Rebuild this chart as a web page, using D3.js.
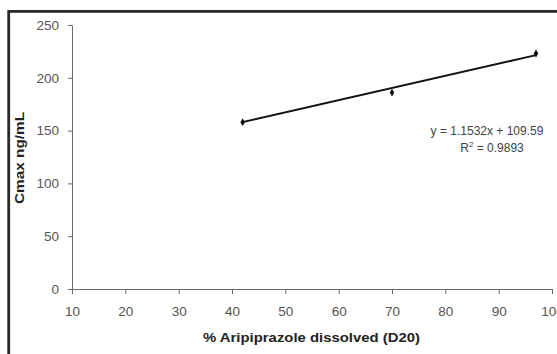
<!DOCTYPE html>
<html><head><meta charset="utf-8">
<script src="https://cdn.jsdelivr.net/npm/d3@7/dist/d3.min.js"></script>
<style>body{margin:0;background:#fff}svg{display:block}text{font-family:"Liberation Sans",Arial,sans-serif}</style>
</head><body>
<script>
const xValues = [42, 70, 97];
const yValues = [158, 186, 223];
const xTicks = [10, 20, 30, 40, 50, 60, 70, 80, 90, 100];
const yTicks = [0, 50, 100, 150, 200, 250];
const slope = 1.1532, intercept = 109.59;
const eqLabel = "y = 1.1532x + 109.59";
const r2Label = "0.9893";
const xTitle = "% Aripiprazole dissolved (D20)";
const yTitle = "Cmax ng/mL";

const W = 557, H = 354;
const svg = d3.select("body").append("svg").attr("width", W).attr("height", H);
svg.append("rect").attr("x", 8.7).attr("y", 11.4).attr("width", 600).attr("height", 400)
  .attr("fill", "none").attr("stroke", "#2a2a2a").attr("stroke-width", 2.8);

const x = d3.scaleLinear().domain([10, 100]).range([72, 552]);
const y = d3.scaleLinear().domain([0, 250]).range([289, 25]);

const xa = svg.append("g").attr("transform", "translate(0,289)")
  .call(d3.axisBottom(x).tickValues(xTicks).tickSize(5).tickSizeOuter(0).tickPadding(12));
const ya = svg.append("g").attr("transform", "translate(72,0)")
  .call(d3.axisLeft(y).tickValues(yTicks).tickSize(4).tickSizeOuter(0).tickPadding(9));
[xa, ya].forEach(a => {
  a.select(".domain").attr("stroke", "#6a6a6a");
  a.selectAll(".tick line").attr("stroke", "#6a6a6a");
  a.selectAll(".tick text").attr("fill", "#555").style("font-size", "13.5px");
});

const xs = d3.extent(xValues);
svg.append("line").attr("x1", x(xs[0])).attr("y1", y(slope * xs[0] + intercept))
  .attr("x2", x(xs[1])).attr("y2", y(slope * xs[1] + intercept))
  .attr("stroke", "#111").attr("stroke-width", 2);

svg.selectAll("path.pt").data(xValues).enter().append("path").attr("class", "pt")
  .attr("d", d3.symbol(d3.symbolDiamond, 18))
  .attr("transform", (d, i) => `translate(${x(d)},${y(yValues[i])})`)
  .attr("fill", "#111");

svg.append("text").attr("x", 487).attr("y", 135).attr("text-anchor", "middle")
  .attr("fill", "#444").style("font-size", "12px").text(eqLabel);
const r2 = svg.append("text").attr("x", 492).attr("y", 152).attr("text-anchor", "middle")
  .attr("fill", "#444").style("font-size", "12px");
r2.append("tspan").text("R");
r2.append("tspan").attr("dy", -5).style("font-size", "8px").text("2");
r2.append("tspan").attr("dy", 5).text(" = " + r2Label);

svg.append("text").attr("x", 311.5).attr("y", 342).attr("text-anchor", "middle")
  .attr("textLength", 217).attr("lengthAdjust", "spacingAndGlyphs")
  .attr("fill", "#222").style("font-size", "12.5px").style("font-weight", "bold").text(xTitle);
svg.append("text").attr("transform", "translate(24,158) rotate(-90)").attr("text-anchor", "middle")
  .attr("textLength", 92).attr("lengthAdjust", "spacingAndGlyphs")
  .attr("fill", "#222").style("font-size", "12.5px").style("font-weight", "bold").text(yTitle);
</script>
</body></html>
